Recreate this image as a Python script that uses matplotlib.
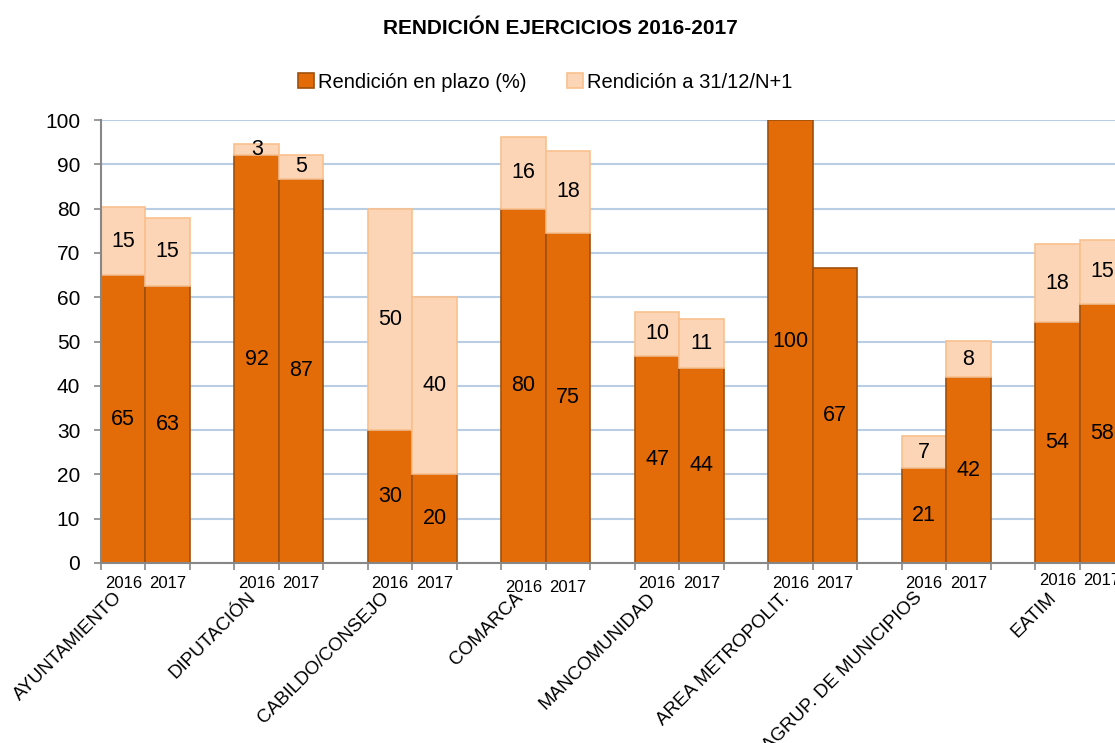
import matplotlib
matplotlib.use("Agg")
import matplotlib.pyplot as plt
from matplotlib.patches import Patch

plt.rcParams['font.family'] = ['Liberation Sans', 'DejaVu Sans']

# Datos
categorias = ['AYUNTAMIENTO', 'DIPUTACIÓN', 'CABILDO/CONSEJO', 'COMARCA',
              'MANCOMUNIDAD', 'AREA METROPOLIT.', 'AGRUP. DE MUNICIPIOS', 'EATIM']
anios = ['2016', '2017']
en_plazo_2016 = [64.9, 92.0, 30.0, 80.0, 46.8, 100.0, 21.4, 54.4]
a_31_12_2016 = [15.4, 2.6, 50.0, 16.1, 9.8, 0.0, 7.3, 17.6]
en_plazo_2017 = [62.6, 86.7, 20.0, 74.6, 44.0, 66.7, 41.9, 58.4]
a_31_12_2017 = [15.3, 5.4, 40.0, 18.4, 11.1, 0.0, 8.2, 14.6]
series = ['Rendición en plazo (%)', 'Rendición a 31/12/N+1']

# ajuste vertical (px) de las etiquetas de año por grupo, como en el original
desplaz_anio = [0, 0, 0, 4, 0, 0, 0, -3]

c_oscuro = '#E36C09'
c_oscuro_borde = '#A0500C'
c_claro = '#FBD5B5'
c_claro_borde = '#F9C08E'

fig = plt.figure(figsize=(11.15, 7.43), dpi=100)
ax = fig.add_axes([101 / 1115, 180 / 743, 23 * 44.48 / 1115, 443 / 743])

n = len(categorias)
x16 = [3 * i + 0.5 for i in range(n)]
x17 = [3 * i + 1.5 for i in range(n)]

for xs, base, extra in [(x16, en_plazo_2016, a_31_12_2016), (x17, en_plazo_2017, a_31_12_2017)]:
    ax.bar(xs, base, width=1.0, color=c_oscuro, edgecolor=c_oscuro_borde, linewidth=1.2, zorder=3)
    for x, b, e in zip(xs, base, extra):
        if e > 0:
            ax.bar(x, e, bottom=b, width=1.0, color=c_claro, edgecolor=c_claro_borde,
                   linewidth=1.2, zorder=3)
        ax.text(x, b / 2, f'{b:.0f}', ha='center', va='center', fontsize=15.5, zorder=4)
        if e > 0:
            ax.text(x, b + e / 2, f'{e:.0f}', ha='center', va='center', fontsize=15.5, zorder=4)

ax.set_xlim(0, 23)
ax.set_ylim(0, 100)
ax.set_yticks(range(0, 101, 10))
ax.set_xticks(range(0, 24))
ax.set_xticklabels([])
ax.tick_params(axis='y', labelsize=15, length=5, width=1.2, color='#878787', pad=10)
ax.tick_params(axis='x', length=5, width=1.2, color='#878787')
ax.grid(axis='y', color='#B9CDE5', linewidth=1.5, zorder=0)
for s in ['top', 'right']:
    ax.spines[s].set_visible(False)
for s in ['left', 'bottom']:
    ax.spines[s].set_color('#878787')
    ax.spines[s].set_linewidth(1.5)
    ax.spines[s].set_zorder(5)

# etiquetas de año y de categoría
for i, cat in enumerate(categorias):
    dy = desplaz_anio[i] * 0.72
    for x, a in zip([x16[i], x17[i]], anios):
        ax.annotate(a, xy=(x, 0), xycoords=('data', 'axes fraction'),
                    xytext=(0, -15 - dy), textcoords='offset points',
                    ha='center', va='center', fontsize=12)
    ax.annotate(cat, xy=(x16[i], 0), xycoords=('data', 'axes fraction'),
                xytext=(-7, -19), textcoords='offset points',
                ha='right', va='top', rotation=45, rotation_mode='anchor', fontsize=13.5)

fig.text(0.503, 1 - 28 / 743, 'RENDICIÓN EJERCICIOS 2016-2017', ha='center', va='center',
         fontsize=15, fontweight='bold')

handles = [Patch(facecolor=c_oscuro, edgecolor=c_oscuro_borde, linewidth=1.2),
           Patch(facecolor=c_claro, edgecolor=c_claro_borde, linewidth=1.2)]
fig.legend(handles, series, loc='center', bbox_to_anchor=(545 / 1115, 1 - 82 / 743), ncol=2,
           frameon=False, fontsize=14.5, handlelength=0.8, handleheight=0.8,
           handletextpad=0.2, columnspacing=2.0)

fig.savefig('out.png', dpi=100)
